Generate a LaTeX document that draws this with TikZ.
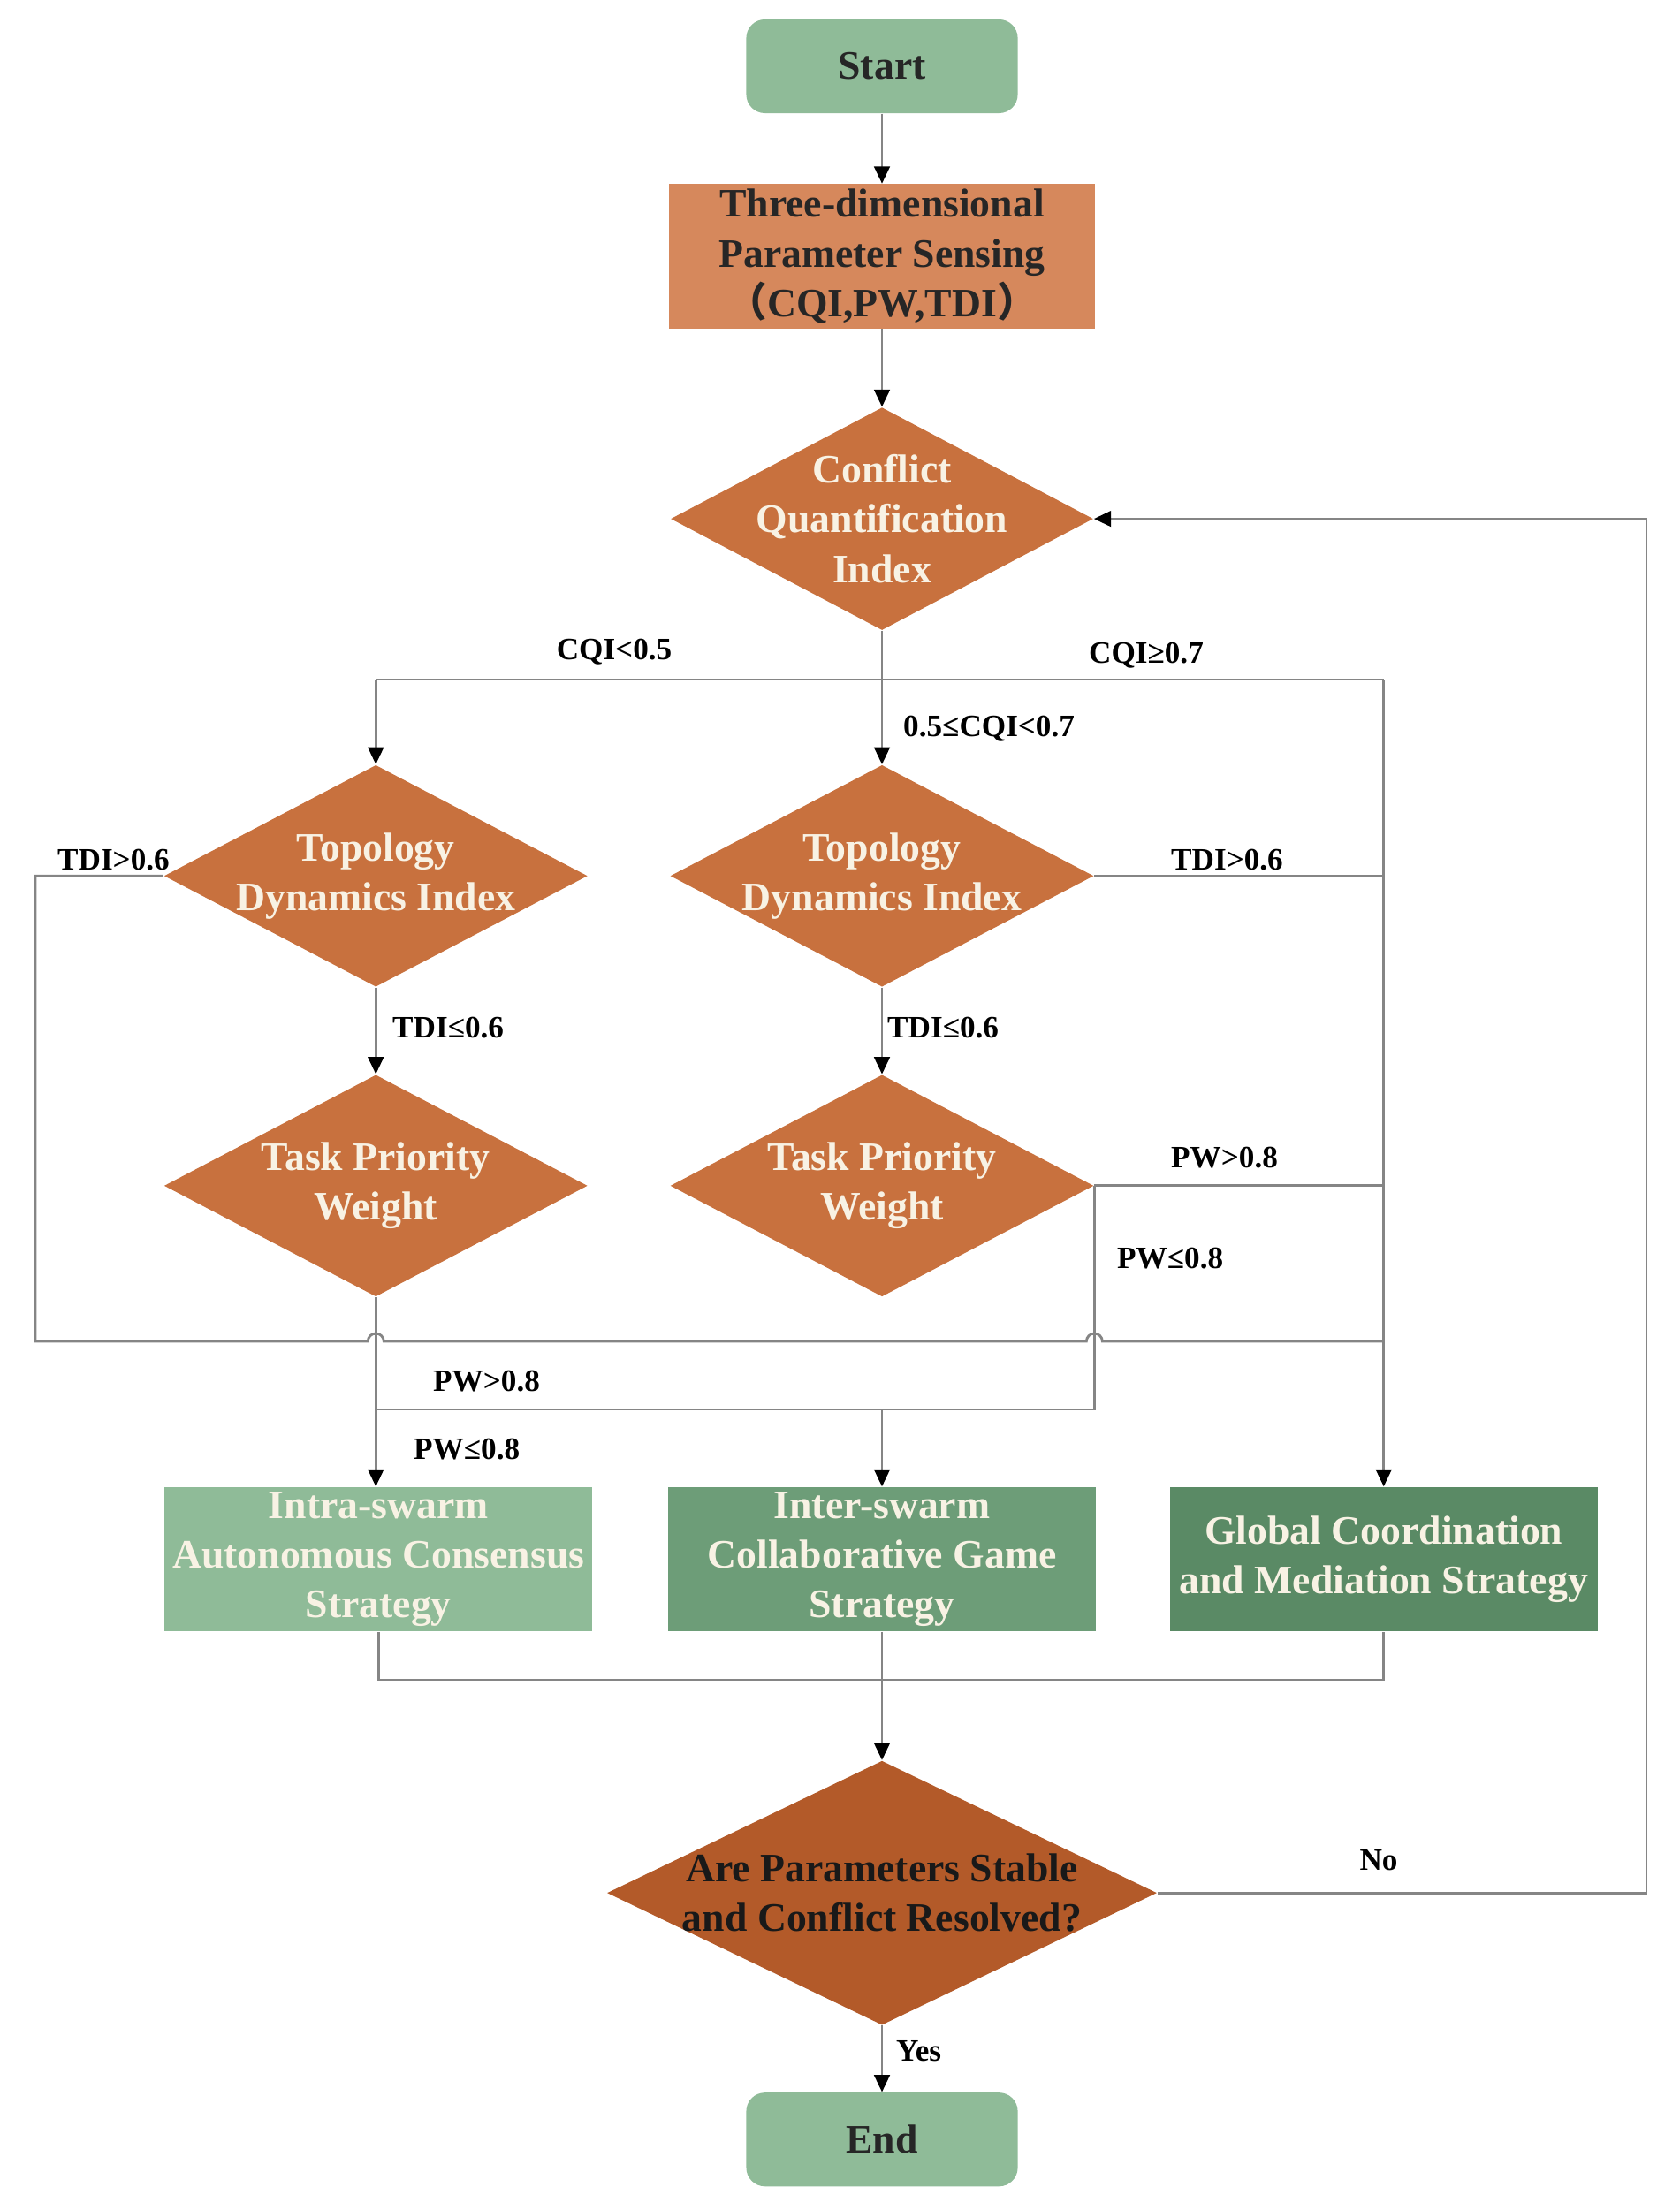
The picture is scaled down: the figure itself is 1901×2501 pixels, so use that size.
\documentclass[tikz,border=0pt]{standalone}
\usepackage{fontspec}
\setmainfont{Liberation Serif}
\newfontfamily\cjkfont{Noto Sans CJK SC}
\usepackage{xcolor}
\usepackage{tikz}
\usetikzlibrary{
  positioning, arrows.meta, shapes.geometric, calc
}
\definecolor{fcgreen}{HTML}{8FBB98}
\definecolor{fcmidgreen}{HTML}{6D9D78}
\definecolor{fcdarkgreen}{HTML}{5A8A65}
\definecolor{fcpeach}{HTML}{D6885C}
\definecolor{fcorange}{HTML}{C8713E}
\definecolor{fcrust}{HTML}{B35A29}
\definecolor{fccream}{HTML}{F8F2E4}
\definecolor{fcline}{HTML}{858585}

\begin{document}
\begin{tikzpicture}[
  x=0.01cm, y=-0.01cm,
  term/.style={
    rectangle, rounded corners=6pt, fill=fcgreen,
    minimum width=3.07cm, minimum height=1.06cm,
    font=\fontsize{13}{16}\selectfont\bfseries, text=black!85
  },
  sense/.style={
    rectangle, fill=fcpeach, minimum width=4.81cm, minimum height=1.63cm,
    font=\fontsize{13}{16}\selectfont\bfseries, text=black!85,
    align=center, inner sep=0pt
  },
  dia/.style={diamond, fill=fcorange, inner sep=0pt},
  dtxt/.style={
    text=fccream, align=center, font=\fontsize{13}{16}\selectfont\bfseries
  },
  strat/.style={
    rectangle, minimum width=4.84cm, minimum height=1.63cm,
    font=\fontsize{13}{16}\selectfont\bfseries, text=fccream,
    align=center, inner sep=0pt
  },
  lbl/.style={font=\fontsize{10}{12}\selectfont\bfseries, inner sep=1pt},
  wire/.style={draw=fcline, line width=0.8pt},
  arr/.style={wire, -{Triangle[length=5.5pt, width=5pt, color=black]}},
]
\useasboundingbox (0,0) rectangle (1901,2501);

% Main column
\node[term] (start) at (998,75) {Start};

\node[sense, below=0.79cm of start] (sense) {
  Three-dimensional\\
  Parameter Sensing\\
  {\cjkfont （}CQI,PW,TDI{\cjkfont ）}
};

\node[dia, below=0.88cm of sense, minimum width=4.78cm, minimum height=2.52cm,
  label={[dtxt]center:Conflict\\Quantification\\Index}] (cqi) {};

% Topology dynamics checks
\node[dia, below=1.51cm of cqi, minimum width=4.79cm, minimum height=2.51cm,
  label={[dtxt]center:Topology\\Dynamics Index}] (tdiB) {};
\node[dia, left=0.92cm of tdiB, minimum width=4.79cm, minimum height=2.51cm,
  label={[dtxt]center:Topology\\Dynamics Index}] (tdiA) {};

% Task priority checks
\node[dia, below=0.98cm of tdiB, minimum width=4.79cm, minimum height=2.51cm,
  label={[dtxt]center:Task Priority\\Weight}] (tpwB) {};
\node[dia, below=0.98cm of tdiA, minimum width=4.79cm, minimum height=2.51cm,
  label={[dtxt]center:Task Priority\\Weight}] (tpwA) {};

% Strategies
\node[strat, fill=fcmidgreen, below=2.14cm of tpwB] (inter) {
  Inter-swarm\\
  Collaborative Game\\
  Strategy
};
\node[strat, fill=fcgreen, left=0.84cm of inter] (intra) {
  Intra-swarm\\
  Autonomous Consensus\\
  Strategy
};
\node[strat, fill=fcdarkgreen, right=0.82cm of inter] (global) {
  Global Coordination\\
  and Mediation Strategy
};

% Stability check and end
\node[dia, fill=fcrust, below=1.45cm of inter, minimum width=6.22cm,
  minimum height=2.99cm,
  label={[dtxt, text=black!90]center:Are Parameters Stable\\and Conflict Resolved?}] (final) {};
\node[term, below=0.75cm of final] (end) {End};

% Junctions
\coordinate (split) at (998,769);
\coordinate (loopL) at (40,1518);
\coordinate (join) at (998,1595);
\coordinate (merge) at (998,1901);
\coordinate (fb) at (1863,589);

% Arrows
\draw[arr] (start) -- (sense);
\draw[arr] (sense) -- (cqi);

\draw[arr] (cqi.south) -- (tdiB.north);
\draw[wire] (split -| tdiA.north) -- (split -| global.north);
\draw[arr] (split -| tdiA.north) -- (tdiA.north);
\draw[arr] (split -| global.north) -- (global.north);

\draw[arr] (tdiA) -- (tpwA);
\draw[arr] (tdiB) -- (tpwB);
\draw[wire] (tdiB.east) -- (global.north |- tdiB.east);

\draw[wire] (tdiA.west) -| (loopL)
  -- ($(loopL -| tpwA.south)+(-0.09cm,0)$)
  arc[start angle=180, end angle=0, radius=0.09cm]
  -- ($(loopL -| tpwB.east)+(-0.09cm,0)$)
  arc[start angle=180, end angle=0, radius=0.09cm]
  -- (loopL -| global.north);

\draw[wire] (tpwB.east) -- (global.north |- tpwB.east);
\draw[wire] (tpwB.east) |- (join -| tpwA.south);
\draw[arr] (tpwA.south) -- (tpwA.south |- intra.north);
\draw[arr] (join) -- (inter.north);

\draw[wire] (intra.south) |- (merge -| global.south) -- (global.south);
\draw[arr] (inter.south) -- (final.north);

\draw[arr] (final.east) -| (fb) |- (cqi.east);
\draw[arr] (final.south) -- (end.north);

% Branch labels
\node[lbl] (cqiLow) at (695,738) {CQI<0.5};
\node[lbl] (cqiHigh) at (1297,742) {CQI≥0.7};
\node[lbl, anchor=west] (cqiMid) at (1018,825) {0.5≤CQI<0.7};
\node[lbl, anchor=west] (tdiAhigh) at (61,973) {TDI>0.6};
\node[lbl, anchor=west] (tdiBhigh) at (1321,973) {TDI>0.6};
\node[lbl, anchor=west] (tdiAlow) at (440,1163) {TDI≤0.6};
\node[lbl, anchor=west] (tdiBlow) at (1000,1163) {TDI≤0.6};
\node[lbl, anchor=west] (tpwBhigh) at (1321,1310) {PW>0.8};
\node[lbl, anchor=west] (tpwBlow) at (1260,1424) {PW≤0.8};
\node[lbl, anchor=west] (tpwAhigh) at (486,1563) {PW>0.8};
\node[lbl, anchor=west] (tpwAlow) at (464,1640) {PW≤0.8};
\node[lbl] (noLbl) at (1560,2105) {No};
\node[lbl, anchor=west] (yesLbl) at (1010,2321) {Yes};

\end{tikzpicture}
\end{document}
